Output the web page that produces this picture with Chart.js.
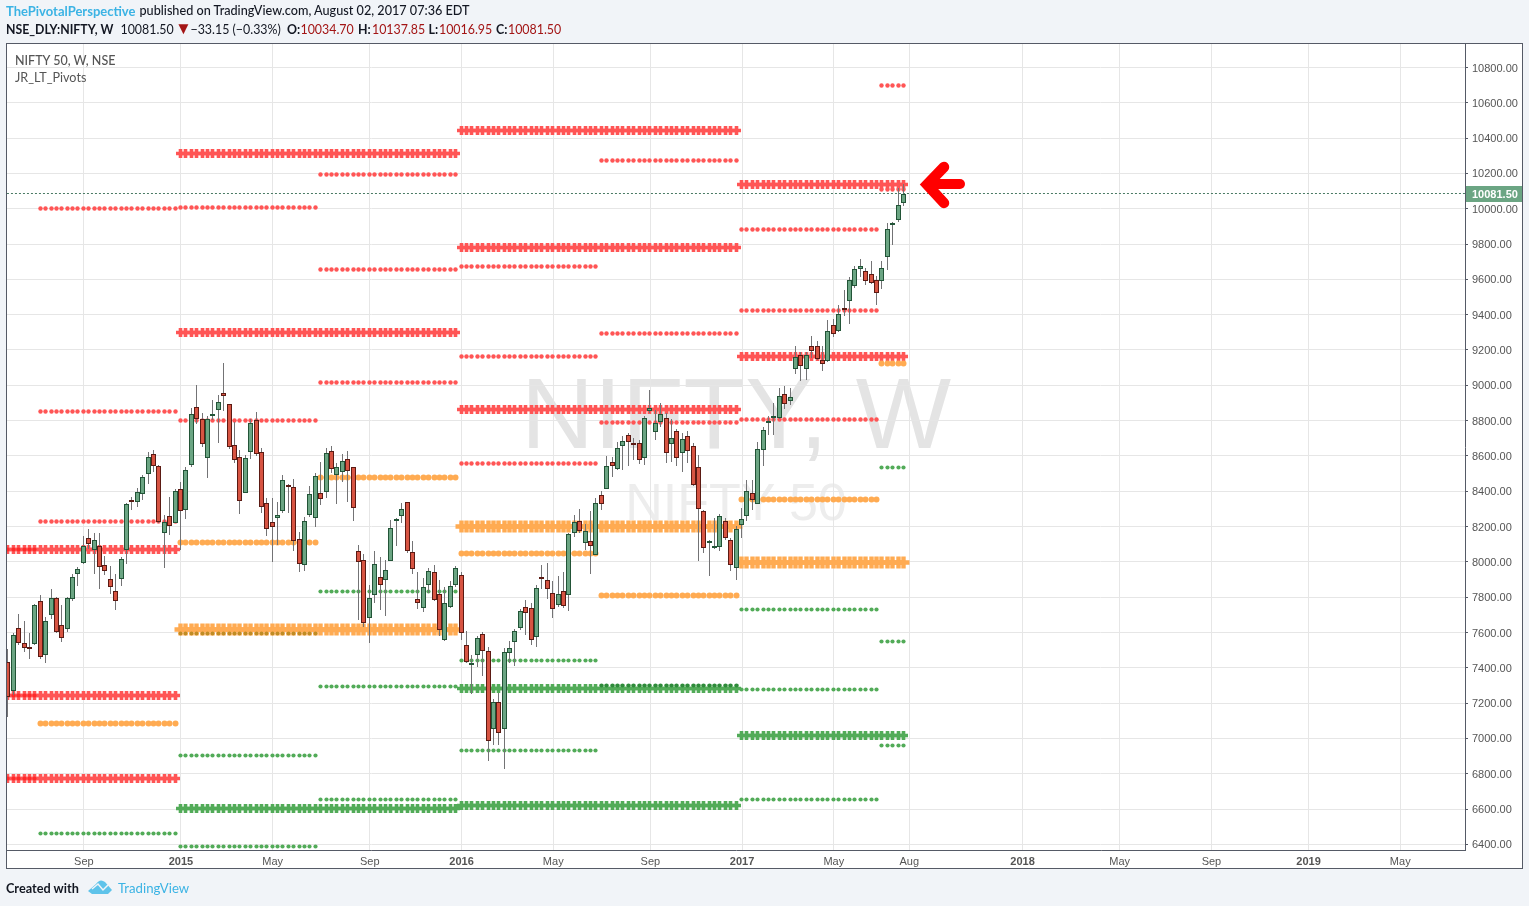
<!DOCTYPE html>
<html><head><meta charset="utf-8">
<script src="https://cdn.jsdelivr.net/npm/chart.js@4/dist/chart.umd.min.js"></script>
<style>
html,body{margin:0;padding:0;background:#f1f4f8;width:1529px;height:906px;overflow:hidden;font-family:Lato,"Open Sans",sans-serif}
.t{position:absolute;white-space:nowrap}
#box{position:absolute;left:6px;top:43px;width:1515px;height:824px;border:1px solid #555a66;background:#fff}
.wm{position:absolute;font-family:"Liberation Sans",Arial,sans-serif;text-align:center;left:7px;width:1458px;white-space:nowrap}
canvas{position:absolute;left:0;top:0}
b{font-weight:700}
.l2{top:21.5px;font-size:12.4px;line-height:16px;color:#131722}
.v{color:#a31515}
</style></head><body>
<div id="box"></div>
<div class="wm" style="top:358px;font-size:101px;line-height:110px;color:#e4e4e4">NIFTY, W</div>
<div class="wm" style="top:472px;font-size:52px;line-height:60px;color:#ededed">NIFTY 50</div>
<canvas id="c" width="1529" height="906"></canvas>
<div class="t" style="left:6px;top:3px;font-size:13px;line-height:16px;color:#3bb3e4;font-weight:700">ThePivotalPerspective</div>
<div class="t" style="left:139.5px;top:3px;font-size:12.65px;line-height:16px;color:#131722;font-weight:500">published on TradingView.com, August 02, 2017 07:36 EDT</div>
<div class="t l2" style="left:6px;font-size:12.3px"><b>NSE_DLY:NIFTY, W</b></div>
<div class="t l2" style="left:120.5px">10081.50</div>
<div class="t l2 v" style="left:175px;top:20px;font-size:17px">▼</div>
<div class="t l2" style="left:190.5px">−33.15 (−0.33%)</div>
<div class="t l2" style="left:287px"><b>O:</b></div><div class="t l2 v" style="left:300.5px">10034.70</div>
<div class="t l2" style="left:358px"><b>H:</b></div><div class="t l2 v" style="left:372px">10137.85</div>
<div class="t l2" style="left:428.5px"><b>L:</b></div><div class="t l2 v" style="left:439px">10016.95</div>
<div class="t l2" style="left:496px"><b>C:</b></div><div class="t l2 v" style="left:508px">10081.50</div>
<div class="t" style="left:15px;top:53px;font-size:12.5px;line-height:15px;color:#555;font-weight:500">NIFTY 50, W, NSE</div>
<div class="t" style="left:15px;top:70px;font-size:12.6px;line-height:15px;color:#555">JR_LT_Pivots</div>
<div class="t" style="left:6px;top:880px;font-size:12.7px;line-height:16px;font-weight:700;color:#131722">Created with</div>
<div class="t" style="left:118px;top:880px;font-size:13.2px;line-height:16px;color:#3bb3e4">TradingView</div>
<svg class="t" style="left:0;top:0;pointer-events:none" width="1529" height="906">
  <path d="M88 891 L96 884 Q100 878 105 882 L112 890 L108 894 L92 894 Z" fill="#5ec3ea"/>
  <path d="M92 889 L98 884 L103 890 L108 885" fill="none" stroke="#f1f4f8" stroke-width="1.5"/>
  <path d="M944 167 L927 184.5 L944 203" fill="none" stroke="#ff0000" stroke-width="10.5" stroke-linecap="round" stroke-linejoin="miter"/>
  <path d="M930 184 L960 184" fill="none" stroke="#ff0000" stroke-width="10" stroke-linecap="round"/>
</svg>
<script>
// Week numbers: 0 is the week of 5 Jan 2015.
const firstWeek = -32;
const opens = [7430,7266,7623,7538,7515,7532,7780,7470,7700,7793,7640,7621,7787,7933,7991,8133,8069,8088,7980,7901,7833,7901,8065,8348,8337,8382,8496,8609,8541,8161,8258,8218,
8411,8292,8550,8875,8807,8586,8834,8858,8955,8892,8660,8592,8392,8620,8802,8620,8331,8227,8246,8286,8437,8422,8127,7984,8263,8246,8388,8397,8626,8494,8511,8581,8535,8059,8008,7683,7810,7912,7895,8006,8233,8261,8337,8054,7787,7736,7870,7940,7816,7559,7746,7867,
7923,7527,7419,7470,7589,7493,7054,7209,7051,7485,7544,7623,7742,7736,7576,7912,7895,7821,7757,7833,7814,8165,8229,8105,8116,8040,8377,8414,8564,8524,8654,8717,8671,8671,8586,8853,8734,8790,8813,8666,8739,8615,8711,8654,8535,8286,8105,8079,8084,8234,8126,7965,
8209,8260,8392,8330,8634,8787,8819,8815,8948,8912,9093,9169,9093,9220,9225,9146,9135,9339,9308,9435,9480,9560,9656,9650,9628,9594,9588,9724,9911,9937,10034.70];
const highs = [7504,7595,7704,7664,7595,7761,7812,7687,7846,7800,7755,7800,7931,7972,8146,8186,8163,8163,8033,7976,7931,8029,8331,8367,8416,8490,8620,8634,8547,8265,8367,8411,
8452,8535,8870,9002,8843,8826,8917,8945,9125,8892,8794,8634,8605,8809,8849,8645,8360,8360,8337,8490,8441,8469,8167,8252,8430,8501,8566,8643,8656,8558,8611,8628,8539,8095,8044,7868,8061,8029,8010,8237,8246,8331,8337,8116,7940,7906,7963,7980,7897,7855,7891,7976,
7942,7608,7472,7579,7600,7519,7226,7258,7510,7551,7619,7731,7783,7765,7867,7982,7993,7891,7919,7942,8165,8265,8299,8214,8288,8362,8401,8600,8592,8677,8713,8728,8700,8688,8826,8974,8860,8898,8841,8807,8751,8728,8741,8671,8604,8293,8123,8250,8273,8250,8137,8201,
8307,8462,8462,8676,8764,8825,8898,8982,8995,8983,9221,9190,9191,9278,9250,9221,9369,9378,9454,9539,9611,9675,9715,9662,9703,9618,9703,9917,9924,10115,10137.85];
const lows = [7122,7245,7528,7491,7447,7528,7451,7428,7678,7598,7547,7604,7780,7865,7987,8074,7933,7848,7927,7819,7729,7865,7989,8295,8312,8352,8439,8511,8218,7967,8154,8218,
8069,8243,8539,8783,8652,8477,8804,8675,8856,8637,8558,8273,8388,8581,8601,8278,8148,8001,8095,8275,8278,8063,7944,7950,8256,8199,8322,8363,8501,8327,8454,8341,8233,7670,7632,7542,7768,7727,7693,8003,8090,8222,8052,7933,7732,7717,7821,7780,7579,7551,7740,7859,
7557,7428,7249,7406,7353,6871,6962,6962,6828,7425,7409,7615,7585,7528,7519,7846,7789,7681,7746,7738,7723,8142,8161,8067,7933,8040,8293,8414,8482,8520,8520,8543,8577,8554,8549,8841,8690,8766,8562,8567,8543,8511,8558,8430,8003,8048,7920,8071,8062,8122,7948,7897,
8135,8230,8292,8330,8541,8717,8717,8811,8863,8891,9063,9023,9029,9152,9142,9080,9131,9274,9301,9393,9348,9552,9613,9567,9571,9454,9544,9652,9796,9924,10016.95];
const closes = [7232,7583,7542,7510,7510,7753,7459,7663,7793,7604,7570,7793,7912,7957,8088,8103,8122,7969,7946,7859,7780,8014,8326,8337,8394,8479,8592,8541,8224,8227,8201,8399,
8286,8518,8836,8811,8666,8807,8838,8904,8938,8649,8575,8343,8586,8785,8609,8309,8184,8195,8263,8462,8433,8116,7986,8229,8382,8484,8358,8615,8524,8535,8569,8516,8303,8001,7655,7793,7986,7870,7952,8190,8241,8297,8063,7957,7765,7855,7946,7782,7612,7765,7861,7963,
7598,7434,7425,7566,7493,6983,7209,7028,7487,7510,7606,7719,7712,7555,7850,7901,7848,7734,7816,7751,8156,8224,8173,8173,8088,8331,8326,8541,8541,8643,8683,8677,8667,8575,8813,8870,8785,8836,8615,8700,8586,8694,8626,8433,8297,8076,8116,8088,8262,8135,7982,8188,
8245,8404,8351,8642,8744,8795,8825,8942,8895,8936,9163,9110,9174,9195,9150,9123,9305,9288,9401,9429,9599,9656,9673,9588,9577,9520,9667,9888,9919,10019,10081.50];
const lastClose = 10081.50;

// Pivot levels as [price, first week, last week]
const redHeavy = [[8071,-32,-1],[7243,-32,-1],[6775,-32,-1],[10314,0,51],[9301,0,51],[10445,52,103],[9782,52,103],[8864,52,103],[10140,104,134],[9163,104,134]];
const darkRedDots = [[8071,-32,-27],[7243,-32,-27],[6775,-32,-27]];
const redDots = [[10003,-26,-1],[8853,-26,-1],[8229,-26,-1],[10006,0,25],[8802,0,25],[10196,26,51],[9658,26,51],[9017,26,51],[9675,52,77],[9165,52,77],[8558,52,77],[10275,78,103],[9295,78,103],[8790,78,103],[9883,104,129],[9424,104,129],[8806,104,129],[10700,130,134],[10109,130,134]];
const orangeHeavy = [[7617,0,51],[8203,52,103],[7997,104,134]];
const orangeDots = [[7087,-26,-1],[8110,0,25],[8479,26,51],[8048,52,77],[7810,78,103],[8353,104,129],[9123,130,134]];
const olive = [[7595,0,25]];
const greenHeavy = [[6605,0,51],[6622,52,103],[7281,52,103],[7019,104,134]];
const greenDots = [[6464,-26,-1],[6388,0,25],[6905,0,25],[7833,26,51],[7296,26,51],[6656,26,51],[7442,52,77],[6932,52,77],[7279,104,129],[7732,104,129],[6656,104,129],[8534,130,134],[7551,130,134],[6962,130,134]];
const darkGreenDots = [[7302,78,103]];

const yTicks = [6400,6600,6800,7000,7200,7400,7600,7800,8000,8200,8400,8600,8800,9000,9200,9400,9600,9800,10000,10200,10400,10600,10800];
const xTickWeeks = [-18,0,17,35,52,69,87,104,121,135,156,174,191,209,226];
const xTickLabels = ["Sep","2015","May","Sep","2016","May","Sep","2017","May","Aug","2018","May","Sep","2019","May"];
const yearLabels = ["2015","2016","2017","2018","2019"];

const GREEN="#6ba583", GREEN_LINE="#225437", RED="#d75442", RED_LINE="#5b1a13", WICK="#737375";
const weeks = opens.map((_,i)=>firstWeek+i);

function pivotData(levels){
  const out=[];
  for(const [p,a,b] of levels){ for(let w=a;w<=b;w++) out.push({x:w,y:p}); }
  return out;
}
function pivotSet(levels,color,style,radius,width,order){
  return {type:"line",data:pivotData(levels),showLine:false,pointStyle:style,pointRadius:radius,pointHoverRadius:radius,
    pointBorderWidth:width,pointBorderColor:color,pointBackgroundColor:color,order:order,clip:true};
}

const lastPricePlugin={id:"lastPrice",afterDraw(chart){
  const {ctx,scales:{y},chartArea:a}=chart; const py=Math.round(y.getPixelForValue(lastClose));
  ctx.save(); ctx.fillStyle=GREEN; ctx.fillRect(a.right+1,py-8,56,16);
  ctx.fillStyle="#fff"; ctx.font="bold 11px 'Liberation Sans',Arial,sans-serif"; ctx.textBaseline="middle"; ctx.textAlign="left";
  ctx.fillText(lastClose.toFixed(2),a.right+7,py+0.5); ctx.restore();
}};
// Snap marks to the pixel grid so candle borders stay crisp, as in a trading chart.
const snapPlugin={id:"snap",beforeDatasetsDraw(chart){
  chart.data.datasets.forEach((ds,i)=>{
    const meta=chart.getDatasetMeta(i);
    meta.data.forEach(el=>{
      if(ds.priceLine){ el.y=Math.floor(el.y)-0.5; return; }
      el.x=Math.round(el.x)-0.5;
      if(meta.type==="bar"){
        el.y=Math.round(el.y); el.base=Math.round(el.base);
        if(ds.label==="body" && Math.abs(el.base-el.y)<2) el.base=el.y+2;
      } else {
        el.y=Math.floor(el.y)+0.5;
      }
    });
  });
}};

new Chart(document.getElementById("c"),{
  type:"bar",
  plugins:[snapPlugin,lastPricePlugin],
  data:{datasets:[
    {type:"line",priceLine:true,data:[{x:-33,y:lastClose},{x:239,y:lastClose}],borderColor:"#4a7a64",borderWidth:1,borderDash:[2,2],pointRadius:0,order:0},
    {label:"body",data:weeks.map((w,i)=>({x:w,y:[opens[i],closes[i]]})),
      backgroundColor:weeks.map((_,i)=>closes[i]>=opens[i]?GREEN:RED),
      borderColor:weeks.map((_,i)=>closes[i]>=opens[i]?GREEN_LINE:RED_LINE),
      borderWidth:1,borderSkipped:false,barThickness:5,grouped:false,inflateAmount:0,order:1},
    {label:"wick",data:weeks.map((w,i)=>({x:w,y:[lows[i],highs[i]]})),backgroundColor:WICK,borderWidth:0,barThickness:1,grouped:false,inflateAmount:0,order:2},
    pivotSet(darkRedDots,"#ff2a2a","circle",2,0,3),
    pivotSet(olive,"#c08c24","circle",2,0,3),
    pivotSet(darkGreenDots,"#2e8b3a","circle",2.1,0,4),
    pivotSet(orangeDots,"#ffab52","circle",3,0,5),
    pivotSet(orangeHeavy,"#ffab52","cross",6,4.4,5),
    pivotSet(redDots,"#ff5555","circle",2.2,0,6),
    pivotSet(redHeavy,"#ff5555","cross",4.5,3.6,6),
    pivotSet(greenDots,"#52ab58","circle",2.1,0,7),
    pivotSet(greenHeavy,"#52ab58","cross",4.5,3.6,7)
  ]},
  options:{
    responsive:false,animation:false,
    layout:{autoPadding:false,padding:{left:7,top:44,right:7,bottom:38}},
    plugins:{legend:{display:false},tooltip:{enabled:false}},
    scales:{
      x:{type:"linear",offset:false,min:-32.25,max:238.0,
        afterBuildTicks(s){s.ticks=xTickWeeks.map(v=>({value:v}));},
        afterFit(s){s.height=18;s.paddingLeft=0;s.paddingRight=0;},
        grid:{color:"#e6e6e6",lineWidth:1,drawTicks:false,offset:false},
        border:{display:true,color:"#555a66",width:1},
        ticks:{autoSkip:false,maxRotation:0,padding:5,color:"#555",
          font(ctx){const l=xTickLabels[xTickWeeks.indexOf(ctx.tick&&ctx.tick.value)];
            return {family:"'Liberation Sans',Arial,sans-serif",size:11,weight:yearLabels.includes(l)?"bold":"normal"};},
          callback(v){return xTickLabels[xTickWeeks.indexOf(v)]||"";}}
      },
      y:{type:"linear",position:"right",min:6368,max:10933,
        afterBuildTicks(s){s.ticks=yTicks.map(v=>({value:v}));},
        afterFit(s){s.width=57;s.paddingTop=0;s.paddingBottom=0;},
        grid:{color:"#e6e6e6",lineWidth:1,tickColor:"#555a66",tickLength:3},
        border:{display:true,color:"#555a66",width:1},
        ticks:{autoSkip:false,padding:4,labelOffset:1,color:"#555",font:{family:"'Liberation Sans',Arial,sans-serif",size:11},
          callback(v){return v.toFixed(2);}}
      }
    }
  }
});
</script>
</body></html>
